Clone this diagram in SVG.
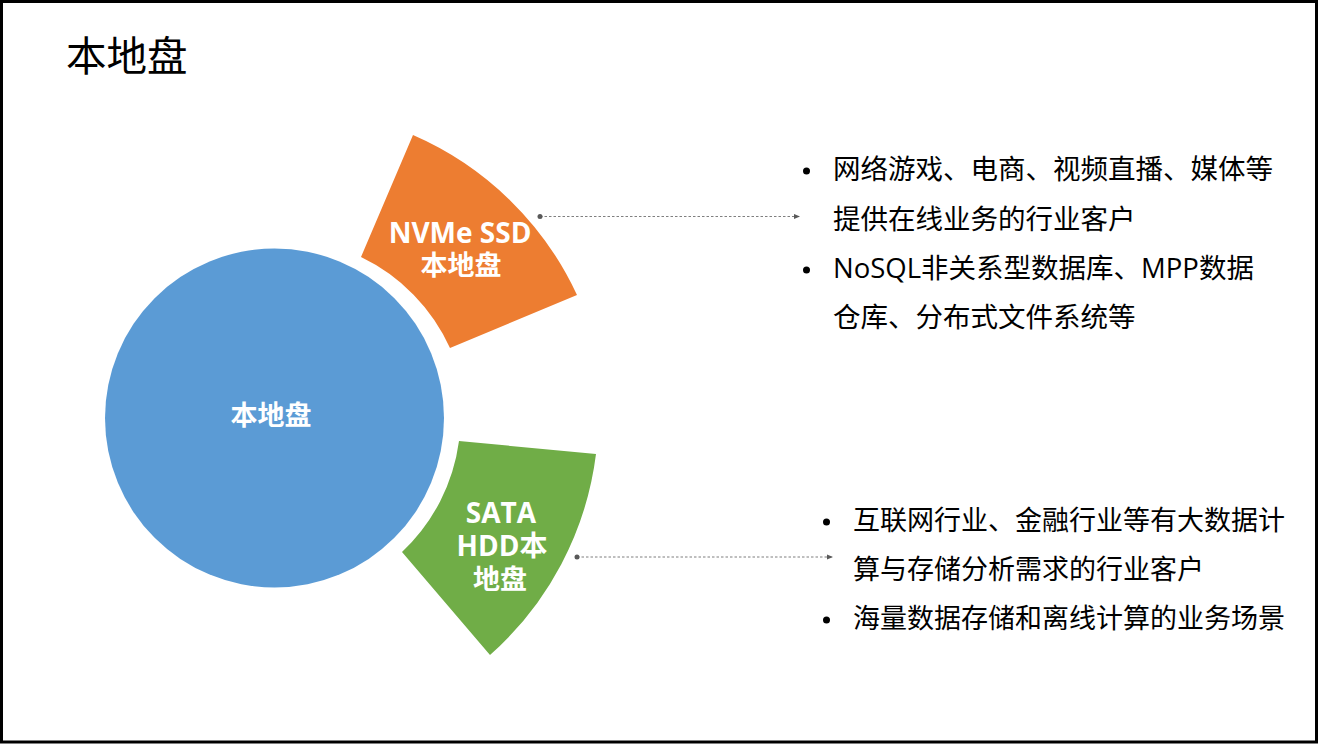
<svg xmlns="http://www.w3.org/2000/svg" width="1322" height="747" viewBox="0 0 1322 747">
<defs>
<style>
.lbl{font-family:"Open Sans","Noto Sans CJK SC",sans-serif;font-weight:bold;font-size:27px;fill:#ffffff;text-anchor:middle}
.lat{font-size:28px}
.txt{font-family:"Open Sans","Noto Sans CJK SC",sans-serif;font-size:27px;fill:#000000}
.big{font-size:27.5px}
.conn{stroke:#7f7f7f;stroke-width:1;stroke-dasharray:2.5 2;fill:none}
</style>
<marker id="dot" markerWidth="6" markerHeight="6" refX="3" refY="3" markerUnits="userSpaceOnUse">
<circle cx="3" cy="3" r="2.5" fill="#595959"/>
</marker>
<marker id="arr" markerWidth="8" markerHeight="8" refX="7" refY="4" orient="auto" markerUnits="userSpaceOnUse">
<path d="M1,1.5 L7,4 L1,6.5 Z" fill="#595959"/>
</marker>
</defs>
<rect x="0" y="0" width="1322" height="747" fill="#ffffff"/>
<rect x="1.5" y="1.5" width="1315" height="740.5" fill="none" stroke="#000000" stroke-width="3"/>
<text id="title" x="66" y="71" font-family="'Noto Sans CJK SC',sans-serif" font-size="40.5" fill="#000000">本地盘</text>

<g id="center-disk">
<circle cx="274.5" cy="418" r="169.5" fill="#5b9bd5"/>
<text class="lbl" x="271" y="425">本地盘</text>
</g>

<g id="nvme">
<path d="M413,135 A322,322 0 0 1 577,295 L450,348 A186,186 0 0 0 361,257 Z" fill="#ed7d31"/>
<text class="lbl lat" x="460" y="243">NVMe SSD</text>
<text class="lbl" x="461" y="275">本地盘</text>
</g>

<g id="sata">
<path d="M459,441 L596,454 A322,322 0 0 1 490,655 L402,552 A186,186 0 0 0 459,441 Z" fill="#70ad47"/>
<text class="lbl lat" x="501" y="523">SATA</text>
<text class="lbl lat" x="502" y="556">HDD本</text>
<text class="lbl" x="500" y="589">地盘</text>
</g>

<g id="connectors">
<line class="conn" x1="540" y1="216.5" x2="800" y2="216.5" marker-start="url(#dot)" marker-end="url(#arr)"/>
<line class="conn" x1="577" y1="557" x2="833" y2="557" marker-start="url(#dot)" marker-end="url(#arr)"/>
</g>

<g id="nvme-desc">
<circle cx="806.5" cy="171" r="3.5" fill="#000000"/>
<text class="txt big" x="833" y="179">网络游戏、电商、视频直播、媒体等</text>
<text class="txt big" x="833" y="229">提供在线业务的行业客户</text>
<circle cx="806.5" cy="270" r="3.5" fill="#000000"/>
<text class="txt big" x="833" y="278">NoSQL非关系型数据库、MPP数据</text>
<text class="txt big" x="833" y="327">仓库、分布式文件系统等</text>
</g>

<g id="sata-desc">
<circle cx="826.5" cy="522" r="3.5" fill="#000000"/>
<text class="txt" x="853" y="530">互联网行业、金融行业等有大数据计</text>
<text class="txt" x="853" y="579">算与存储分析需求的行业客户</text>
<circle cx="826.5" cy="620" r="3.5" fill="#000000"/>
<text class="txt" x="853" y="628">海量数据存储和离线计算的业务场景</text>
</g>
</svg>
